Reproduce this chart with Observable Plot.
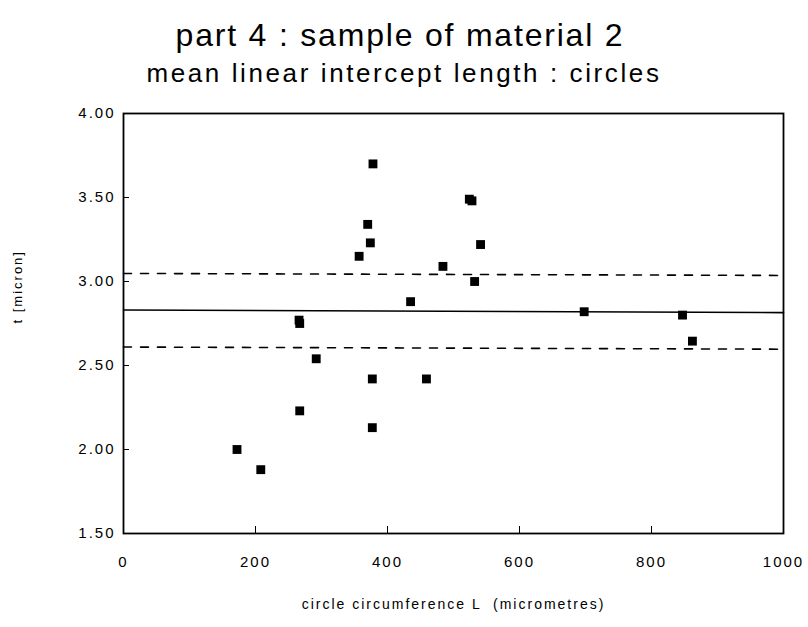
<!DOCTYPE html>
<html>
<head>
<meta charset="utf-8">
<script src="https://cdn.jsdelivr.net/npm/d3@7"></script>
<script src="https://cdn.jsdelivr.net/npm/@observablehq/plot@0.6"></script>
<style>
  body { margin: 0; background: #fff; width: 808px; height: 627px; overflow: hidden; font-family: "Liberation Sans", Arial, sans-serif; color: #000; }
  #title { height: 56px; line-height: 56px; padding-top: 7px; font-size: 32px; letter-spacing: 1.8px; text-align: center; padding-right: 8px; }
  #subtitle { height: 20px; line-height: 20px; font-size: 26px; letter-spacing: 2.6px; text-align: center; }
  svg text { letter-spacing: 2px; }
</style>
</head>
<body>
<div id="title"></div>
<div id="subtitle"></div>
<div id="chart"></div>
<script>
const titleText = "part 4 : sample of material 2";
const subtitleText = "mean linear intercept length : circles";
const xTitle = "circle circumference L  (micrometres)";
const yTitle = "t [micron]";

// measured points: circle circumference L (micrometres) vs t (micron)
const circumference = [172, 208, 266, 267, 267, 292, 357, 370, 374, 378, 377, 377, 435, 459, 484, 524, 528, 532, 541, 698, 847, 862];
const interceptT    = [2.00, 1.88, 2.77, 2.75, 2.23, 2.54, 3.15, 3.34, 3.23, 3.70, 2.42, 2.13, 2.88, 2.42, 3.09, 3.49, 3.48, 3.00, 3.22, 2.82, 2.80, 2.645];

// reference lines (mean and band), given at the two ends of the x range
const lineX  = [0, 1000];
const meanT  = [2.83, 2.815];
const upperT = [3.048, 3.036];
const lowerT = [2.61, 2.597];

const xTicks = [0, 200, 400, 600, 800, 1000];
const yTicks = [1.5, 2.0, 2.5, 3.0, 3.5, 4.0];

document.getElementById("title").textContent = titleText;
document.getElementById("subtitle").textContent = subtitleText;

const points = circumference.map((x, i) => ({x, y: interceptT[i]}));
const mkLine = ys => lineX.map((x, i) => ({x, y: ys[i]}));

const chart = Plot.plot({
  width: 808,
  height: 544,
  marginTop: 30,
  marginBottom: 94,
  marginLeft: 123,
  marginRight: 25,
  style: {fontFamily: "'Liberation Sans', Arial, sans-serif", fontSize: "15px", color: "#000", background: "#fff"},
  x: {domain: [0, 1000]},
  y: {domain: [1.5, 4.0]},
  marks: [
    Plot.axisX({ticks: xTicks, tickSize: 0, tickPadding: 23, tickFormat: d => String(d), label: null, fontSize: 15}),
    Plot.axisY({ticks: yTicks, tickSize: 0, tickPadding: 8, tickFormat: d => d.toFixed(2), label: null, fontSize: 15}),
    Plot.tickX(xTicks.slice(1, -1), {x: d => d, insetTop: 413, stroke: "#000", strokeWidth: 1}),
    Plot.tickY(yTicks.slice(1, -1), {y: d => d, insetRight: 654, stroke: "#000", strokeWidth: 1}),
    Plot.line(mkLine(upperT), {x: "x", y: "y", stroke: "#000", strokeWidth: 1.6, strokeDasharray: "8,9"}),
    Plot.line(mkLine(lowerT), {x: "x", y: "y", stroke: "#000", strokeWidth: 1.6, strokeDasharray: "8,9"}),
    Plot.line(mkLine(meanT), {x: "x", y: "y", stroke: "#000", strokeWidth: 1.6}),
    Plot.dot(points, {x: "x", y: "y", symbol: "square", r: 5, fill: "#000", stroke: "none"}),
    Plot.frame({stroke: "#000", strokeWidth: 1.8}),
    Plot.text([xTitle], {frameAnchor: "bottom", dy: 75, fontSize: 14, fill: "#000", style: "letter-spacing:1.9px"}),
    Plot.text([yTitle], {frameAnchor: "left", dx: -106, rotate: -90, fontSize: 13, fill: "#000"})
  ]
});
document.getElementById("chart").appendChild(chart);
</script>
</body>
</html>
